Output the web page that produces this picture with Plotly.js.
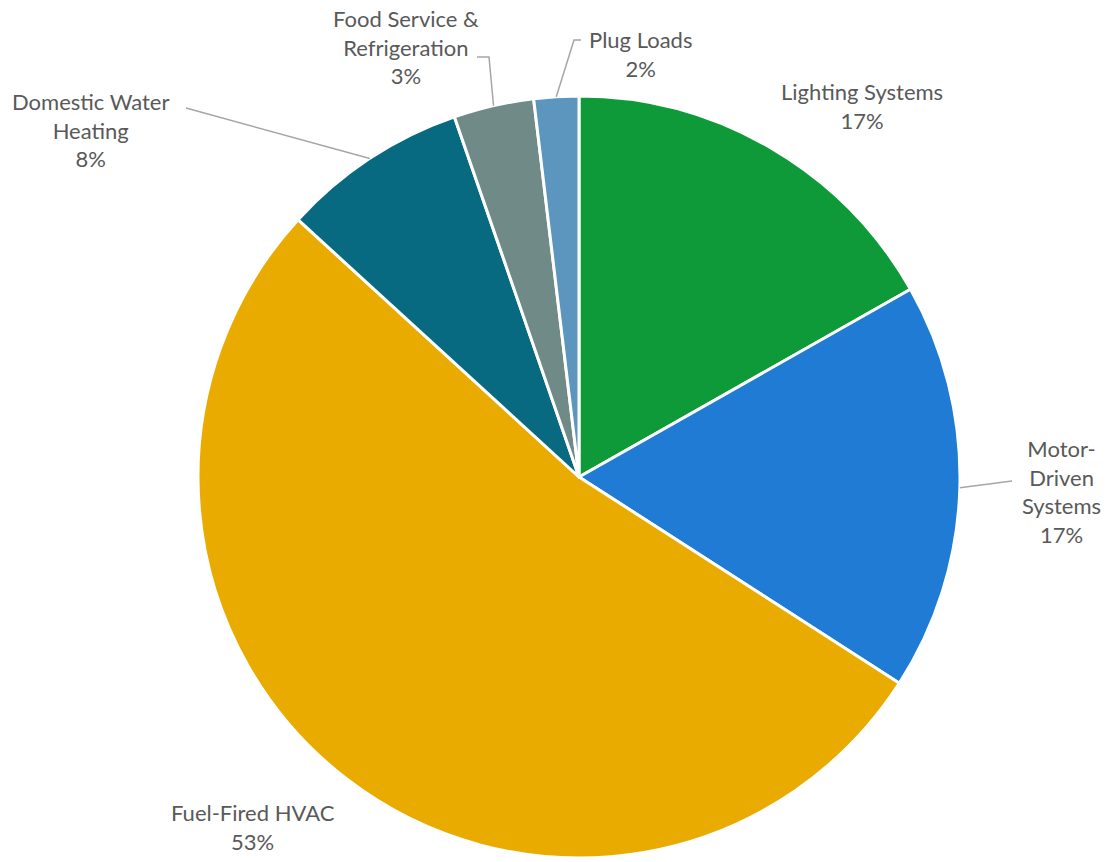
<!DOCTYPE html>
<html><head><meta charset="utf-8">
<script src="https://cdn.plot.ly/plotly-3.0.1.min.js"></script>
<style>html,body{margin:0;padding:0;background:#fff}#chart{width:1109px;height:862px}</style>
</head><body><div id="chart"></div>
<script>
// Data
const categories = ["Lighting Systems", "Motor-Driven Systems", "Fuel-Fired HVAC", "Domestic Water Heating", "Food Service & Refrigeration", "Plug Loads"];
const shares = [16.8, 17.3, 52.7, 7.9, 3.4, 1.9];
const labelLines = [["Lighting Systems"], ["Motor-", "Driven", "Systems"], ["Fuel-Fired HVAC"], ["Domestic Water", "Heating"], ["Food Service &", "Refrigeration"], ["Plug Loads"]];
const colors = ["#0E9A38", "#1F7BD3", "#EAAB00", "#086A80", "#6F8A87", "#5C96BE"];

// Layout geometry
const W = 1109, H = 862;
const cx = 579, cy = 477, R = 381;
const dom = {x: [(cx - R) / W, (cx + R) / W], y: [1 - (cy + R) / H, 1 - (cy - R) / H]};

const total = shares.reduce((a, b) => a + b, 0);
const pct = shares.map(v => Math.round(v / total * 100) + "%");

// mid-angle edge points (clockwise from 12 o'clock), derived from the data
let acc = 0;
const edge = shares.map(v => {
  const mid = (acc + v / 2) / total * 2 * Math.PI; acc += v;
  return [cx + R * Math.sin(mid), cy - R * Math.cos(mid)];
});

// label placement (pixels) and leader paths
const labelPos = [[862, 106], [1061, 491], [253, 827], [90, 130], [406, 47], [640, 54]];
const font = {family: "Lato, 'Open Sans', sans-serif", size: 22, color: "#595959"};
const annotations = categories.map((c, i) => ({
  x: labelPos[i][0] / W, y: 1 - labelPos[i][1] / H, xref: "paper", yref: "paper",
  xanchor: "center", yanchor: "middle", showarrow: false, align: "center",
  text: labelLines[i].concat([pct[i]]).join("<br>"), font: font
}));
const px = (x, y) => (x / W) + "," + (1 - y / H);
function leader(i, pts) {
  const e = edge[i];
  let p = "M" + px(e[0], e[1]);
  pts.forEach(q => p += " L" + px(q[0], q[1]));
  return {type: "path", xref: "paper", yref: "paper", path: p, line: {color: "#A6A6A6", width: 1.5}};
}
const shapes = [
  leader(1, [[1012, 481]]),
  leader(3, [[186, 108]]),
  leader(4, [[489, 57], [477, 57]]),
  leader(5, [[574, 40], [581, 40]])
];

Plotly.newPlot("chart", [{
  type: "pie", labels: categories, values: shares, sort: false, direction: "clockwise", rotation: 0,
  textinfo: "none", hoverinfo: "label+percent",
  marker: {colors: colors, line: {color: "#FFFFFF", width: 3}},
  domain: dom, showlegend: false
}], {
  width: W, height: H, margin: {l: 0, r: 0, t: 0, b: 0},
  paper_bgcolor: "#FFFFFF", showlegend: false,
  annotations: annotations, shapes: shapes
}, {displayModeBar: false, staticPlot: true});
</script></body></html>
